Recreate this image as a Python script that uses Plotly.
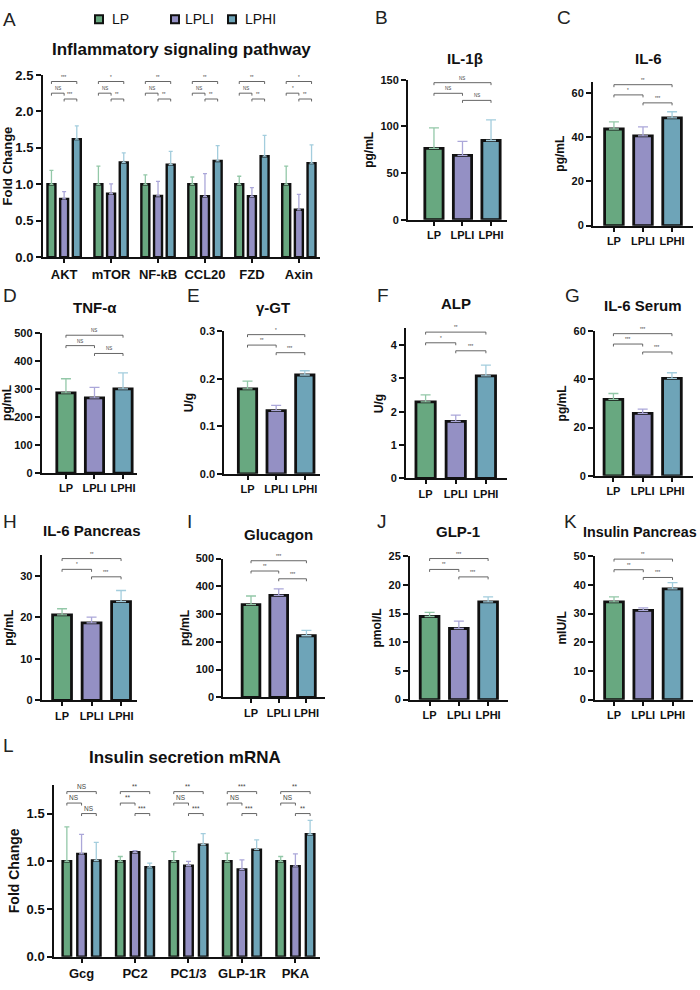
import plotly.graph_objects as go

FONT = "Liberation Sans, Arial, sans-serif"
W, H = 700, 990

# ---------------- data ----------------
groups = ["LP", "LPLI", "LPHI"]
bar_colors = ["#68a880", "#9490c4", "#6ea4b8"]
err_colors = ["#93c8a8", "#aba7d9", "#a3cddd"]

# Panel A: Inflammatory signaling pathway (fold change)
A_genes = ["AKT", "mTOR", "NF-kB", "CCL20", "FZD", "Axin"]
A_LP = [1.00, 1.00, 1.00, 1.00, 1.00, 1.00]
A_LP_err = [0.19, 0.25, 0.13, 0.10, 0.11, 0.25]
A_LPLI = [0.80, 0.87, 0.84, 0.835, 0.835, 0.65]
A_LPLI_err = [0.10, 0.135, 0.20, 0.31, 0.12, 0.21]
A_LPHI = [1.62, 1.30, 1.27, 1.32, 1.385, 1.29]
A_LPHI_err = [0.18, 0.13, 0.18, 0.21, 0.285, 0.25]
A_sig_top = ["***", "*", "**", "**", "**", "*"]
A_sig_left = ["NS", "NS", "NS", "NS", "NS", "*"]
A_sig_right = ["***", "**", "**", "**", "**", "**"]

# Panel L: Insulin secretion mRNA (fold change)
L_genes = ["Gcg", "PC2", "PC1/3", "GLP-1R", "PKA"]
L_LP = [1.00, 1.00, 1.00, 1.00, 1.00]
L_LP_err = [0.36, 0.05, 0.10, 0.085, 0.05]
L_LPLI = [1.077, 1.094, 0.953, 0.915, 0.949]
L_LPLI_err = [0.205, 0.017, 0.045, 0.10, 0.128]
L_LPHI = [1.008, 0.939, 1.173, 1.121, 1.283]
L_LPHI_err = [0.19, 0.041, 0.117, 0.104, 0.145]
L_sig_top = ["NS", "**", "**", "***", "**"]
L_sig_left = ["NS", "**", "NS", "NS", "NS"]
L_sig_right = ["NS", "***", "***", "***", "**"]

# Single-measure panels: means and (upper) SD
B_IL1b = [76.5, 69.0, 85.0];     B_err = [22.0, 15.0, 22.0]
C_IL6 = [43.6, 40.5, 48.6];      C_err = [3.2, 4.1, 2.8]
D_TNFa = [286, 268, 300];        D_err = [50, 37, 57]
E_gGT = [0.179, 0.133, 0.208];   E_err = [0.016, 0.011, 0.009]
F_ALP = [2.30, 1.71, 3.08];      F_err = [0.21, 0.19, 0.32]
G_IL6S = [31.7, 25.9, 40.4];     G_err = [2.4, 1.7, 2.3]
H_IL6P = [20.6, 18.7, 23.8];     H_err = [1.5, 1.4, 2.7]
I_Gcg = [334, 367, 222];         I_err = [31, 24, 19]
J_GLP1 = [14.5, 12.4, 17.05];    J_err = [0.7, 1.3, 0.85]
K_InsP = [34.1, 31.1, 38.6];     K_err = [1.7, 0.9, 2.2]

# significance labels: (LP vs LPHI, LP vs LPLI, LPLI vs LPHI)
B_sig = ["NS", "NS", "NS"]
C_sig = ["**", "*", "***"]
D_sig = ["NS", "NS", "NS"]
E_sig = ["*", "**", "***"]
F_sig = ["**", "*", "***"]
G_sig = ["***", "***", "***"]
H_sig = ["**", "*", "***"]
I_sig = ["***", "**", "***"]
J_sig = ["***", "**", "***"]
K_sig = ["**", "**", "***"]

# ---------------- layout specs (pixels) ----------------
single = [
    dict(L="B", title="IL-1β", yt="pg/mL", v=B_IL1b, e=B_err, sig=B_sig, xd=(408, 507), yd=(216, 74),
         yr=(0, 150), dt=50, xr=(-0.91, 2.56), br=(147, 135.6, 128), tx=465, ty=52, lx=373, ly=11, tfs=15),
    dict(L="C", title="IL-6", yt="pg/mL", v=C_IL6, e=C_err, sig=C_sig, xd=(593, 693), yd=(222, 75.75),
         yr=(0, 65), dt=20, xr=(-0.72, 2.72), br=(63.6, 59.0, 55.4), tx=648, ty=52, lx=555, ly=11, tfs=15),
    dict(L="D", title="TNF-α", yt="pg/mL", v=D_TNFa, e=D_err, sig=D_sig, xd=(41.7, 137), yd=(473.3, 330.7),
         yr=(0, 500), dt=100, xr=(-0.85, 2.49), br=(491, 454, 426), tx=95, ty=305, lx=1, ly=293, tfs=15),
    dict(L="E", title="γ-GT", yt="U/g", v=E_gGT, e=E_err, sig=E_sig, xd=(224.3, 320), yd=(474, 329.3),
         yr=(0, 0.3), dt=0.1, xr=(-0.81, 2.53), br=(0.293, 0.271, 0.255), tx=273, ty=305, lx=185, ly=293, tfs=15),
    dict(L="F", title="ALP", yt="U/g", v=F_ALP, e=F_err, sig=F_sig, xd=(406, 506.7), yd=(478.7, 326.4),
         yr=(0, 4.5), dt=1, xr=(-0.65, 2.69), br=(4.39, 4.07, 3.83), tx=456, ty=301, lx=375, ly=293, tfs=15),
    dict(L="G", title="IL-6 Serum", yt="pg/mL", v=G_IL6S, e=G_err, sig=G_sig, xd=(595, 693), yd=(476, 329),
         yr=(0, 60), dt=20, xr=(-0.63, 2.72), br=(58.9, 54.6, 51.3), tx=643, ty=303, lx=563, ly=293, tfs=15),
    dict(L="H", title="IL-6 Pancreas", yt="pg/mL", v=H_IL6P, e=H_err, sig=H_sig, xd=(41.7, 137), yd=(704, 556.7),
         yr=(0, 35), dt=10, xr=(-0.69, 2.54), br=(34.2, 31.6, 29.8), tx=92, ty=532, lx=1, ly=522, tfs=15),
    dict(L="I", title="Glucagon", yt="pg/mL", v=I_Gcg, e=I_err, sig=I_sig, xd=(223.3, 325), yd=(701, 560),
         yr=(0, 500), dt=100, xr=(-1.0, 2.67), br=(492, 455, 427), tx=278, ty=536, lx=185, ly=522, tfs=15),
    dict(L="J", title="GLP-1", yt="pmol/L", v=J_GLP1, e=J_err, sig=J_sig, xd=(410, 508), yd=(703.3, 557.7),
         yr=(0, 25), dt=5, xr=(-0.67, 2.68), br=(24.6, 22.7, 21.4), tx=458, ty=533, lx=375, ly=522, tfs=15),
    dict(L="K", title="Insulin Pancreas", yt="mIU/L", v=K_InsP, e=K_err, sig=K_sig, xd=(595, 693), yd=(703.3, 557.7),
         yr=(0, 50), dt=10, xr=(-0.65, 2.7), br=(49.0, 45.3, 42.6), tx=640, ty=533, lx=562, ly=522, tfs=14.3),
]

grouped = [
    dict(L="A", title="Inflammatory signaling pathway", yt="Fold Change", genes=A_genes,
         v=[A_LP, A_LPLI, A_LPHI], e=[A_LP_err, A_LPLI_err, A_LPHI_err],
         sig=[A_sig_top, A_sig_left, A_sig_right], xd=(43, 320), yd=(254, 69), yr=(0, 2.5), dt=0.5,
         xr=(-0.45, 5.45), br=(2.41, 2.25, 2.17), tx=181, ty=43, lx=1, ly=13,
         tfs=13, ttl=17, ytfs=13, sigfs=4.5, bw=0.17, off=0.27, capw=2),
    dict(L="L", title="Insulin secretion mRNA", yt="Fold Change", genes=L_genes,
         v=[L_LP, L_LPLI, L_LPHI], e=[L_LP_err, L_LPLI_err, L_LPHI_err],
         sig=[L_sig_top, L_sig_left, L_sig_right], xd=(54.3, 320), yd=(964.3, 789.9), yr=(0, 1.8), dt=0.5,
         xr=(-0.51, 4.46), br=(1.73, 1.61, 1.50), tx=185, ty=762, lx=1, ly=750,
         tfs=13, ttl=17, ytfs=14, sigfs=6.5, bw=0.16, off=0.275, capw=2.5),
]


def px_x(p):
    return p / W


def px_y(p):
    return 1 - p / H


fig = go.Figure()
layout = dict(width=W, height=H, margin=dict(l=0, r=0, t=0, b=0), barmode="overlay",
              plot_bgcolor="white", paper_bgcolor="white", showlegend=False,
              font=dict(family=FONT, color="#111"))
shapes = []
annotations = []

AX = "#111111"
BR = "#555555"


def add_axes(n, spec, cats, tickfs, ytfs, tickfmt=None):
    xs = "xaxis" if n == 1 else f"xaxis{n}"
    ys = "yaxis" if n == 1 else f"yaxis{n}"
    yid = "y" if n == 1 else f"y{n}"
    xid = "x" if n == 1 else f"x{n}"
    layout[xs] = dict(domain=[px_x(spec["xd"][0]), px_x(spec["xd"][1])], range=list(spec["xr"]),
                      type="category", categoryorder="array", categoryarray=cats, anchor=yid,
                      showline=True, linecolor=AX, linewidth=2, ticks="outside", ticklen=4,
                      tickwidth=1.5, tickcolor=AX, showgrid=False, zeroline=False,
                      tickfont=dict(size=tickfs, weight="bold", family=FONT, color="#111"))
    yax = dict(domain=[px_y(spec["yd"][0]), px_y(spec["yd"][1])], range=list(spec["yr"]),
               anchor=xid, showline=True, linecolor=AX, linewidth=2, ticks="outside",
               ticklen=5, tickwidth=2, tickcolor=AX, showgrid=False, zeroline=False,
               tick0=0, dtick=spec["dt"],
               tickfont=dict(size=tickfs, weight="bold", family=FONT, color="#111"),
               title=dict(text=spec["yt"], font=dict(size=ytfs, weight="bold", family=FONT, color="#111"),
                          standoff=4))
    if tickfmt:
        yax["tickformat"] = tickfmt
    layout[ys] = yax
    return xid, yid


def add_bracket(xid, yid, x0, x1, y, d, label, fs, lw):
    shapes.append(dict(type="line", xref=xid, yref=yid, x0=x0, x1=x1, y0=y, y1=y,
                       line=dict(color=BR, width=lw)))
    shapes.append(dict(type="line", xref=xid, yref=yid, x0=x0, x1=x0, y0=y, y1=y - d,
                       line=dict(color=BR, width=lw)))
    shapes.append(dict(type="line", xref=xid, yref=yid, x0=x1, x1=x1, y0=y, y1=y - d,
                       line=dict(color=BR, width=lw)))
    annotations.append(dict(x=(x0 + x1) / 2, y=y, xref=xid, yref=yid, text=label, showarrow=False,
                            yanchor="bottom", yshift=0, font=dict(size=fs, color="#444", family=FONT)))


def add_text(x, y, text, size, bold=True, xanchor="center", color="#111"):
    annotations.append(dict(x=px_x(x), y=px_y(y), xref="paper", yref="paper", text=text,
                            showarrow=False, xanchor=xanchor, yanchor="middle",
                            font=dict(size=size, family=FONT, color=color,
                                      weight="bold" if bold else "normal")))


n = 0
for spec in grouped:
    n += 1
    xid, yid = add_axes(n, spec, spec["genes"], spec["tfs"], spec["ytfs"], tickfmt=".1f")
    for k, g in enumerate(groups):
        vals = spec["v"][k]
        errs = spec["e"][k]
        fig.add_trace(go.Bar(
            x=spec["genes"], y=vals, name=g, xaxis=xid, yaxis=yid,
            width=spec["bw"], offset=(k - 1) * spec["off"] - spec["bw"] / 2,
            marker=dict(color=bar_colors[k], line=dict(color="#111", width=2.4)),
            error_y=dict(type="data", array=errs, arrayminus=[0] * len(errs), symmetric=False,
                         color=err_colors[k], thickness=1.3, width=spec["capw"]),
            hoverinfo="skip"))
    ph = spec["yd"][0] - spec["yd"][1]
    d = (spec["yr"][1] - spec["yr"][0]) * 2.5 / ph
    for j in range(len(spec["genes"])):
        c = [j + (k - 1) * spec["off"] for k in range(3)]
        add_bracket(xid, yid, c[0], c[2], spec["br"][0], d, spec["sig"][0][j], spec["sigfs"], 0.9)
        add_bracket(xid, yid, c[0], c[1], spec["br"][1], d, spec["sig"][1][j], spec["sigfs"], 0.9)
        add_bracket(xid, yid, c[1], c[2], spec["br"][2], d, spec["sig"][2][j], spec["sigfs"], 0.9)
    add_text(spec["tx"], spec["ty"], spec["title"], spec["ttl"])
    add_text(spec["lx"], spec["ly"], spec["L"], 19, bold=False, xanchor="left", color="#222")

for spec in single:
    n += 1
    fmt = ".1f" if spec["L"] == "E" else None
    xid, yid = add_axes(n, spec, groups, 11, 12, tickfmt=fmt)
    for k, g in enumerate(groups):
        fig.add_trace(go.Bar(
            x=[g], y=[spec["v"][k]], name=g, xaxis=xid, yaxis=yid,
            width=0.64, offset=-0.32,
            marker=dict(color=bar_colors[k], line=dict(color="#111", width=2.8)),
            error_y=dict(type="data", array=[spec["e"][k]], arrayminus=[0], symmetric=False,
                         color=err_colors[k], thickness=1.3, width=5),
            hoverinfo="skip"))
    ph = spec["yd"][0] - spec["yd"][1]
    d = (spec["yr"][1] - spec["yr"][0]) * 2.5 / ph
    add_bracket(xid, yid, 0, 2, spec["br"][0], d, spec["sig"][0], 4.5, 0.9)
    add_bracket(xid, yid, 0, 1, spec["br"][1], d, spec["sig"][1], 4.5, 0.9)
    add_bracket(xid, yid, 1, 2, spec["br"][2], d, spec["sig"][2], 4.5, 0.9)
    add_text(spec["tx"], spec["ty"], spec["title"], spec["tfs"])
    add_text(spec["lx"], spec["ly"], spec["L"], 19, bold=False, xanchor="left", color="#222")

# legend (drawn manually at the top of panel A)
leg_sq_x = [95, 171, 228]
leg_tx_x = [110, 183, 243]
for k, g in enumerate(groups):
    shapes.append(dict(type="rect", xref="paper", yref="paper",
                       x0=px_x(leg_sq_x[k]), x1=px_x(leg_sq_x[k] + 8),
                       y0=px_y(16.5), y1=px_y(8.5),
                       fillcolor=bar_colors[k], line=dict(color="#111", width=2)))
    add_text(leg_tx_x[k], 12.5, g, 14, bold=False, xanchor="left", color="#111")

layout["shapes"] = shapes
layout["annotations"] = annotations
fig.update_layout(**layout)
fig.write_html("out.html")
